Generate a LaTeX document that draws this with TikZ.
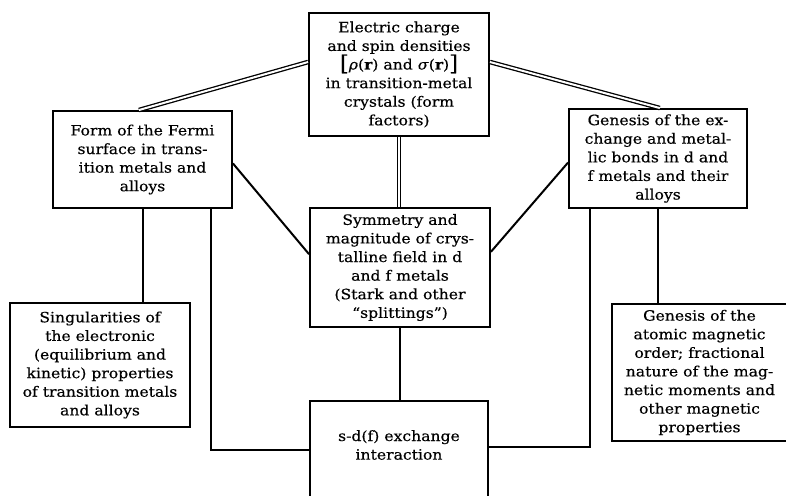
\documentclass[tikz,border=0pt]{standalone}
\usepackage{fontspec}
\setmainfont{DejaVu Serif}[FakeStretch=1.1, FakeBold=0.4]
\usetikzlibrary{calc}
\newcommand{\bigbrk}[1]{{\fontsize{21}{18}\selectfont\raisebox{-1pt}{#1}}}
\begin{document}
\begin{tikzpicture}[x=1pt,y=-1pt,
  boxnode/.style={draw, line width=1.9pt, inner sep=0pt, align=center,
    font=\fontsize{14.2}{18.6}\selectfont},
  txtnode/.style={inner sep=0pt, align=center, font=\fontsize{14.2}{18.6}\selectfont},
  conn/.style={line width=2pt},
  dconn/.style={line width=1.3pt, double, double distance=2pt}]
\clip (0,0) rectangle (786,495);
\useasboundingbox (0,0) rectangle (786,495);
\node[boxnode, minimum width=180pt, minimum height=123pt] (top) at (399,74.5)
  {Electric charge\\ and spin densities\\ \bigbrk{[}\textit{ρ}({\bfseries r}) and \textit{σ}({\bfseries r})\bigbrk{]}\\ in transition-metal\\ crystals (form\\ factors)};
\node[boxnode, minimum width=179pt, minimum height=97pt] (left) at (142.5,159.5)
  {Form of the Fermi\\ surface in trans-\\ ition metals and\\ alloys};
\node[boxnode, minimum width=178pt, minimum height=99pt] (right) at (658,158.5)
  {Genesis of the ex-\\ change and metal-\\ lic bonds in d and\\ f metals and their\\ alloys};
\node[boxnode, minimum width=180pt, minimum height=119pt] (center) at (400,267.5)
  {Symmetry and\\ magnitude of crys-\\ talline field in d\\ and f metals\\ (Stark and other\\ “splittings”)};
\node[boxnode, minimum width=180pt, minimum height=124pt] (sing) at (100,365)
  {Singularities of\\ the electronic\\ (equilibrium and\\ kinetic) properties\\ of transition metals\\ and alloys};
\node[boxnode, minimum width=175pt, minimum height=137pt] (ga) at (699.5,372.5)
  {Genesis of the\\ atomic magnetic\\ order; fractional\\ nature of the mag-\\ netic moments and\\ other magnetic\\ properties};
\node[boxnode, minimum width=178pt, minimum height=110pt, anchor=north] (bot) at (399,400) {};
\node[txtnode] (botlabel) at (399,445) {s-d(f) exchange\\ interaction};

% double connectors
\draw[dconn] ($(top.north west)!0.4!(top.south west)$) -- ($(left.north west)!0.48!(left.north east)$);
\draw[dconn] ($(top.north east)!0.4!(top.south east)$) -- ($(right.north west)!0.51!(right.north east)$);
\draw[dconn] (top.south) -- (top.south |- center.north);
% diagonal connectors
\draw[conn] ($(left.north east)!0.54!(left.south east)$) -- ($(center.north west)!0.39!(center.south west)$);
\draw[conn] ($(right.north west)!0.54!(right.south west)$) -- ($(center.north east)!0.37!(center.south east)$);
% verticals
\draw[conn] (left.south) -- (left.south |- sing.north);
\draw[conn] ($(left.south west)!0.88!(left.south east)$) |- ([yshift=-50pt]bot.north west);
\draw[conn] ($(right.south west)!0.124!(right.south east)$) |- ([yshift=-47pt]bot.north east);
\draw[conn] (right.south) -- (right.south |- ga.north);
\draw[conn] (center.south) -- (center.south |- bot.north);
\end{tikzpicture}
\end{document}
